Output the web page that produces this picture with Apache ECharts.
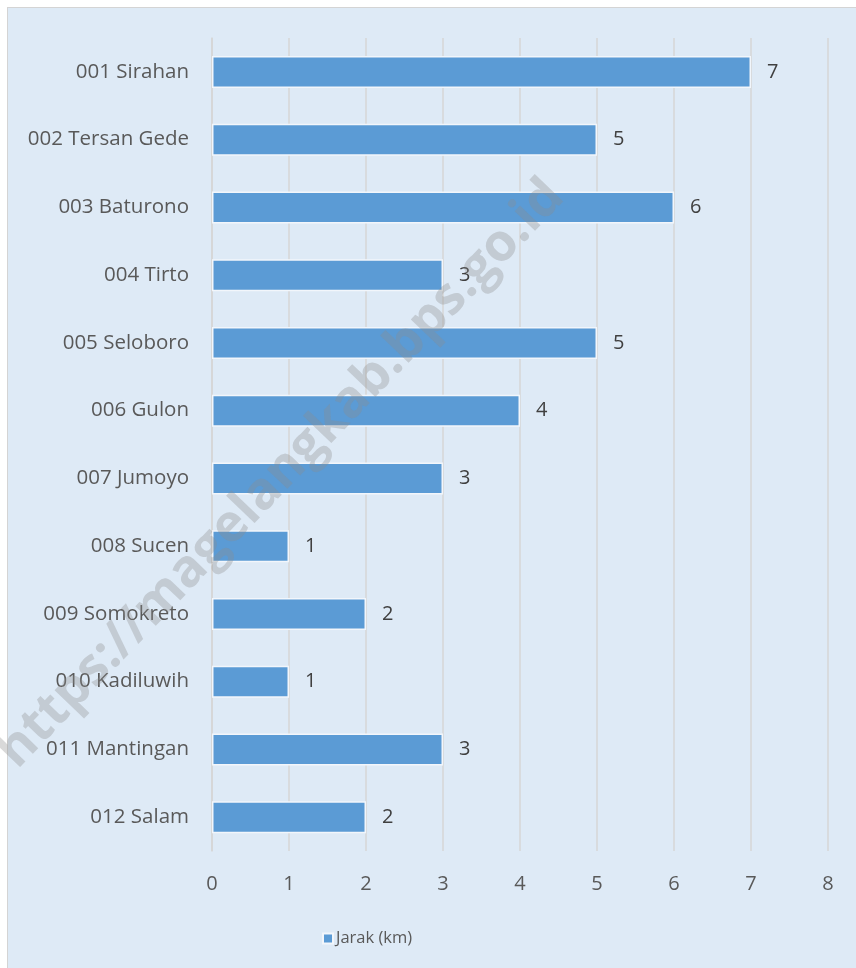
<!DOCTYPE html>
<html>
<head>
<meta charset="utf-8">
<script src="https://cdn.jsdelivr.net/npm/echarts@6/dist/echarts.min.js"></script>
<style>
html,body{margin:0;padding:0;background:#fff;}
#frame{position:absolute;left:7px;top:7px;width:849px;height:961px;border-left:1px solid #d4d4d4;border-top:1px solid #d4d4d4;background:#deeaf6;}
#chart{width:856px;height:968px;position:absolute;left:0;top:0;}
</style>
</head>
<body>
<div id="frame"></div>
<div id="chart"></div>
<script>
var categories = ['001 Sirahan','002 Tersan Gede','003 Baturono','004 Tirto','005 Seloboro','006 Gulon','007 Jumoyo','008 Sucen','009 Somokreto','010 Kadiluwih','011 Mantingan','012 Salam'];
var jarak = [7,5,6,3,5,4,3,1,2,1,3,2];
var seriesName = 'Jarak (km)';
var watermark = 'https://magelangkab.bps.go.id';

var font = '"Open Sans"';
var chart = echarts.init(document.getElementById('chart'));
chart.setOption({
  backgroundColor: 'transparent',
  animation: false,
  grid: {left: 212, right: 28, top: 38, bottom: 117, containLabel: false},
  xAxis: {
    type: 'value', min: 0, max: 8, interval: 1,
    axisLine: {show: false}, axisTick: {show: false},
    splitLine: {show: true, lineStyle: {color: '#d6d6d6', width: 1.5}},
    axisLabel: {color: '#595959', fontFamily: font, fontSize: 20, margin: 23}
  },
  yAxis: {
    type: 'category', data: categories, inverse: true,
    axisLine: {show: true, lineStyle: {color: '#d6d6d6', width: 1.5}},
    axisTick: {show: false},
    axisLabel: {color: '#595959', fontFamily: font, fontSize: 20.5, margin: 23}
  },
  legend: {
    data: [{name: seriesName, icon: 'rect'}],
    left: 317, top: 925, itemWidth: 10, itemHeight: 10, itemGap: 4,
    textStyle: {color: '#595959', fontFamily: font, fontSize: 16.5, padding: [0,0,0,-2]}
  },
  series: [{
    name: seriesName, type: 'bar', data: jarak,
    barWidth: 32,
    itemStyle: {color: '#5b9bd5', borderColor: '#f2f6fb', borderWidth: 1.5},
    label: {show: true, position: 'right', distance: 16, color: '#404040', fontFamily: font, fontSize: 20}
  }],
  graphic: [{
    type: 'text',
    x: 281, y: 474, rotation: Math.PI / 4 + 0.02,
    style: {text: watermark, fill: 'rgba(140,140,140,0.33)', font: 'bold 52px "Open Sans"', textAlign: 'center', textVerticalAlign: 'middle'},
    z: 100
  }]
});
</script>
</body>
</html>
